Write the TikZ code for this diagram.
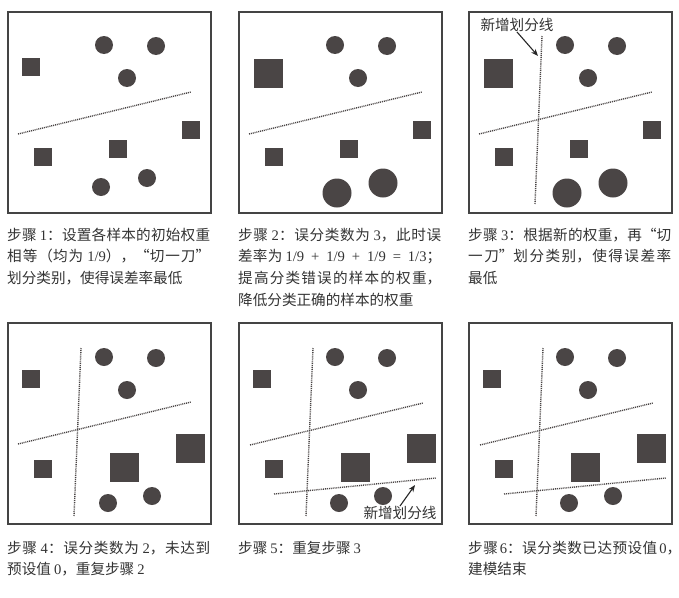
\documentclass[tikz,border=0pt]{standalone}
\usepackage{fontspec}
\setmainfont{Noto Sans CJK SC}
\newfontfamily\numf{Liberation Serif}
\newfontfamily\qf[RawFeature=+fwid]{Noto Sans CJK SC}
\newcommand\nm[1]{{\numf #1}}
\newcommand\oq{{\qf “}}
\newcommand\cq{{\qf ”}}
\newcommand\gap{\hskip 3pt plus 1pt\relax}
\newcommand\opgap{\hskip 3pt plus 20pt\relax}
\XeTeXlinebreaklocale "zh"
\XeTeXlinebreakskip=0pt plus 1pt
\tolerance=9999
\usetikzlibrary{arrows.meta}
\definecolor{shp}{HTML}{4A4545}
\definecolor{frm}{HTML}{444444}
\definecolor{txt}{HTML}{333333}
\tikzset{
 panelframe/.style={draw=frm, line width=1.6pt, minimum width=203pt, minimum height=201pt, anchor=north west, inner sep=0pt},
 dotc/.style={circle, fill=shp, inner sep=0pt, minimum size=18pt},
 bigc/.style={dotc, minimum size=29pt},
 sq/.style={rectangle, fill=shp, inner sep=0pt, minimum size=18pt},
 bigsq/.style={sq, minimum size=29pt},
 dline/.style={draw=shp, line width=1.4pt, dash pattern=on 1pt off 0.9pt},
 arr/.style={draw=black!85, line width=1.1pt, -{Stealth[length=7pt,width=5.5pt]}},
 lbl/.style={font=\fontsize{14.6pt}{16pt}\selectfont, text=txt, inner sep=0pt},
 captxt/.style={anchor=base west, text width=203pt, align=justify, inner sep=0pt, text=txt, font=\fontsize{14.6pt}{21.8pt}\selectfont},
}
\begin{document}
\begin{tikzpicture}[x=1pt,y=-1pt]
\useasboundingbox (0,0) rectangle (679,597);
% ---------- panel 1
\begin{scope}[shift={(7,11)}]
\node[panelframe] (p1f) at (0,0) {};
\node[dotc] (p1a) at (97,34) {};
\node[dotc] (p1b) at (149,35) {};
\node[dotc] (p1c) at (120,67) {};
\node[dotc] (p1d) at (140,167) {};
\node[dotc] (p1e) at (94,176) {};
\node[sq] (p1s) at (24,56) {};
\node[sq] (p1t) at (184,119) {};
\node[sq] (p1u) at (36,146) {};
\node[sq] (p1v) at (111,138) {};
\coordinate (p1m1) at (11,123); \coordinate (p1m2) at (184,81);
\draw[dline] (p1m1) -- (p1m2);
\end{scope}
% ---------- panel 2
\begin{scope}[shift={(238,11)}]
\node[panelframe] (p2f) at (0,0) {};
\node[dotc] (p2a) at (97,34) {};
\node[dotc] (p2b) at (149,35) {};
\node[dotc] (p2c) at (120,67) {};
\node[bigc] (p2d) at (145,172) {};
\node[bigc] (p2e) at (99,182) {};
\node[bigsq] (p2s) at (30,62) {};
\node[sq] (p2t) at (184,119) {};
\node[sq] (p2u) at (36,146) {};
\node[sq] (p2v) at (111,138) {};
\coordinate (p2m1) at (11,123); \coordinate (p2m2) at (184,81);
\draw[dline] (p2m1) -- (p2m2);
\end{scope}
% ---------- panel 3
\begin{scope}[shift={(468,11)}]
\node[panelframe] (p3f) at (0,0) {};
\node[dotc] (p3a) at (97,34) {};
\node[dotc] (p3b) at (149,35) {};
\node[dotc] (p3c) at (120,67) {};
\node[bigc] (p3d) at (145,172) {};
\node[bigc] (p3e) at (99,182) {};
\node[bigsq] (p3s) at (30,62) {};
\node[sq] (p3t) at (184,119) {};
\node[sq] (p3u) at (36,146) {};
\node[sq] (p3v) at (111,138) {};
\coordinate (p3m1) at (11,123); \coordinate (p3m2) at (184,81);
\draw[dline] (p3m1) -- (p3m2);
\coordinate (p3n1) at (74,25); \coordinate (p3n2) at (67,193);
\draw[dline] (p3n1) -- (p3n2);
\node[lbl] (p3l) at (49,14) {新增划分线};
\coordinate (p3h) at (70,45);
\draw[arr] (p3l.south) -- (p3h);
\end{scope}
% ---------- panel 4
\begin{scope}[shift={(7,322)}]
\node[panelframe] (p4f) at (0,0) {};
\node[dotc] (p4a) at (97,35) {};
\node[dotc] (p4b) at (149,36) {};
\node[dotc] (p4c) at (120,68) {};
\node[dotc] (p4d) at (145,174) {};
\node[dotc] (p4e) at (101,181) {};
\node[sq] (p4s) at (24,57) {};
\node[bigsq] (p4t) at (183,126) {};
\node[sq] (p4u) at (36,147) {};
\node[bigsq] (p4v) at (117,145) {};
\coordinate (p4m1) at (11,122); \coordinate (p4m2) at (184,80);
\draw[dline] (p4m1) -- (p4m2);
\coordinate (p4n1) at (74,26); \coordinate (p4n2) at (67,194);
\draw[dline] (p4n1) -- (p4n2);
\end{scope}
% ---------- panel 5
\begin{scope}[shift={(238,322)}]
\node[panelframe] (p5f) at (0,0) {};
\node[dotc] (p5a) at (97,35) {};
\node[dotc] (p5b) at (149,36) {};
\node[dotc] (p5c) at (120,68) {};
\node[dotc] (p5d) at (145,174) {};
\node[dotc] (p5e) at (101,181) {};
\node[sq] (p5s) at (24,57) {};
\node[bigsq] (p5t) at (183,126) {};
\node[sq] (p5u) at (36,147) {};
\node[bigsq] (p5v) at (117,145) {};
\coordinate (p5m1) at (12,123); \coordinate (p5m2) at (185,81);
\draw[dline] (p5m1) -- (p5m2);
\coordinate (p5n1) at (75,26); \coordinate (p5n2) at (68,194);
\draw[dline] (p5n1) -- (p5n2);
\coordinate (p5o1) at (36,172); \coordinate (p5o2) at (198,156);
\draw[dline] (p5o1) -- (p5o2);
\node[lbl] (p5l) at (162,191) {新增划分线};
\coordinate (p5h) at (177,163);
\draw[arr] (p5l.north) -- (p5h);
\end{scope}
% ---------- panel 6
\begin{scope}[shift={(468,322)}]
\node[panelframe] (p6f) at (0,0) {};
\node[dotc] (p6a) at (97,35) {};
\node[dotc] (p6b) at (149,36) {};
\node[dotc] (p6c) at (120,68) {};
\node[dotc] (p6d) at (145,174) {};
\node[dotc] (p6e) at (101,181) {};
\node[sq] (p6s) at (24,57) {};
\node[bigsq] (p6t) at (183,126) {};
\node[sq] (p6u) at (36,147) {};
\node[bigsq] (p6v) at (117,145) {};
\coordinate (p6m1) at (12,123); \coordinate (p6m2) at (185,81);
\draw[dline] (p6m1) -- (p6m2);
\coordinate (p6n1) at (75,26); \coordinate (p6n2) at (68,194);
\draw[dline] (p6n1) -- (p6n2);
\coordinate (p6o1) at (36,172); \coordinate (p6o2) at (198,156);
\draw[dline] (p6o1) -- (p6o2);
\end{scope}
% ---------- captions
\node[captxt] (c1) at (7,240) {步骤\gap\nm{1}：设置各样本的初始权重\linebreak 相等（均为\gap\nm{1/9}），\oq 切一刀\cq\linebreak 划分类别，使得误差率最低};
\node[captxt] (c2) at (238,240) {步骤\gap\nm{2}：误分类数为\gap\nm{3}，此时误\linebreak 差率为\gap\nm{1/9\opgap+\opgap1/9\opgap+\opgap1/9\opgap=\opgap1/3}；\linebreak 提高分类错误的样本的权重，\linebreak 降低分类正确的样本的权重};
\node[captxt] (c3) at (468,240) {步骤\gap\nm{3}：根据新的权重，再\oq 切\linebreak 一刀\cq 划分类别，使得误差率\linebreak 最低};
\node[captxt] (c4) at (7,553) {步骤\gap\nm{4}：误分类数为\gap\nm{2}，未达到\linebreak 预设值\gap\nm{0}，重复步骤\gap\nm{2}};
\node[captxt] (c5) at (238,553) {步骤\gap\nm{5}：重复步骤\gap\nm{3}};
\node[captxt] (c6) at (468,553) {步骤\hskip 2pt\relax\nm{6}：误分类数已达预设值\hskip 2pt\relax\nm{0}，\kern-10pt\linebreak 建模结束};
\end{tikzpicture}
\end{document}
